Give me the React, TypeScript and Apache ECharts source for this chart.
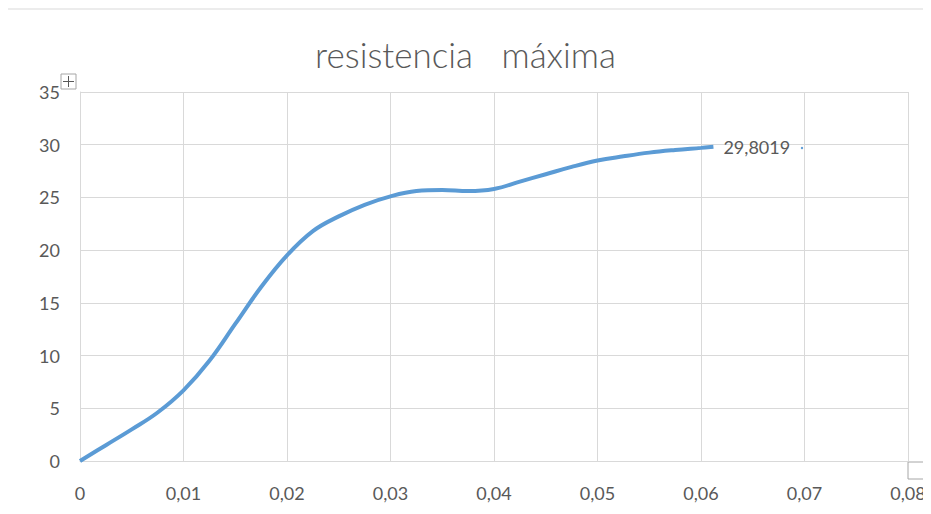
import React, { useEffect, useRef } from "react";
import * as echarts from "echarts";

// Strain (x) and maximum resistance (y) readings along the curve
const strain = [
  0, 0.0025, 0.005, 0.0075, 0.01, 0.0125, 0.015, 0.0175, 0.02, 0.0225, 0.025,
  0.0275, 0.03, 0.0325, 0.035, 0.0375, 0.04, 0.0425, 0.045, 0.0475, 0.05,
  0.0525, 0.055, 0.0575, 0.06, 0.0612,
];
const resistance = [
  0, 1.5, 3.0, 4.6, 6.7, 9.5, 13.0, 16.5, 19.5, 21.8, 23.2, 24.3, 25.1, 25.6,
  25.7, 25.6, 25.8, 26.5, 27.2, 27.9, 28.5, 28.9, 29.25, 29.5, 29.7, 29.8019,
];
const titleText = "resistencia   máxima";
const endLabelText = "29,8019";

const TEXT = "#595959";
const GRID = "#d9d9d9";
const FONT = "Lato";

function fmt(v: number): string {
  if (v === 0) return "0";
  return v.toFixed(2).replace(".", ",");
}

export default function App() {
  const ref = useRef<HTMLDivElement>(null);

  useEffect(() => {
    if (!ref.current) return;
    const chart = echarts.init(ref.current, undefined, { renderer: "svg" });
    const data = strain.map((x, i) => [x, resistance[i]]);
    chart.setOption({
      animation: false,
      backgroundColor: "#fff",
      title: {
        text: titleText,
        left: "center",
        top: 31,
        textStyle: {
          color: TEXT,
          fontSize: 35,
          fontWeight: 300,
          fontFamily: FONT,
        },
      },
      grid: { left: 80, right: 23, top: 92, bottom: 53, containLabel: false },
      xAxis: {
        type: "value",
        min: 0,
        max: 0.08,
        interval: 0.01,
        axisLine: { show: true, lineStyle: { color: GRID, width: 1 } },
        axisTick: { show: false },
        splitLine: { show: true, lineStyle: { color: GRID, width: 1 } },
        axisLabel: {
          color: TEXT,
          fontSize: 18,
          fontFamily: FONT,
          margin: 23,
          formatter: (v: number) => fmt(v),
        },
      },
      yAxis: {
        type: "value",
        min: 0,
        max: 35,
        interval: 5,
        axisLine: { show: true, lineStyle: { color: GRID, width: 1 } },
        axisTick: { show: false },
        splitLine: { show: true, lineStyle: { color: GRID, width: 1 } },
        axisLabel: {
          color: TEXT,
          fontSize: 18,
          fontFamily: FONT,
          margin: 20,
        },
      },
      series: [
        {
          type: "line",
          data,
          smooth: 0.4,
          showSymbol: false,
          symbol: "none",
          lineStyle: { color: "#5b9bd5", width: 4 },
          itemStyle: { color: "#5b9bd5" },
          endLabel: {
            show: true,
            formatter: endLabelText,
            distance: 10,
            color: TEXT,
            fontSize: 18,
            fontFamily: FONT,
          },
        },
      ],
      graphic: [
        {
          type: "rect",
          shape: { x: 5, y: 9, width: 940, height: 520 },
          style: { fill: "none", stroke: GRID, lineWidth: 1 },
          silent: true,
        },
        {
          type: "group",
          children: [
            {
              type: "rect",
              shape: { x: 61, y: 74, width: 15, height: 15 },
              style: { fill: "#fff", stroke: "#a6a6a6", lineWidth: 1 },
            },
            {
              type: "line",
              shape: { x1: 68.5, y1: 76, x2: 68.5, y2: 87 },
              style: { stroke: "#595959", lineWidth: 1 },
            },
            {
              type: "line",
              shape: { x1: 63, y1: 81.5, x2: 74, y2: 81.5 },
              style: { stroke: "#595959", lineWidth: 1 },
            },
          ],
        },
        {
          type: "rect",
          shape: { x: 908, y: 462, width: 17, height: 17 },
          style: { fill: "#fff", stroke: "#a6a6a6", lineWidth: 1 },
        },
        {
          type: "circle",
          shape: { cx: 802, cy: 148, r: 1.2 },
          style: { fill: "#5b9bd5" },
        },
      ],
    });
    return () => chart.dispose();
  }, []);

  return <div ref={ref} style={{ width: 931, height: 514, margin: -8 }} />;
}
